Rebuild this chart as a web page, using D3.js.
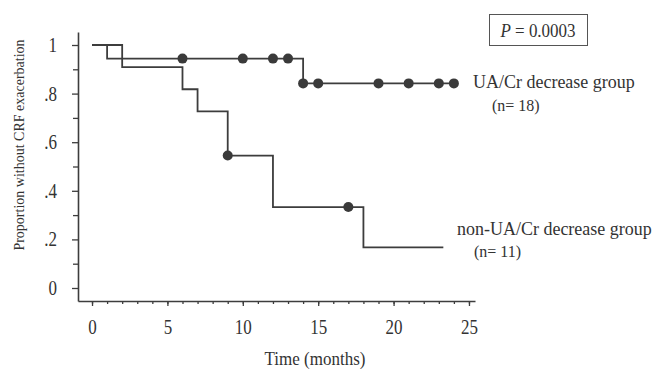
<!DOCTYPE html>
<html>
<head>
<meta charset="utf-8">
<script src="https://cdn.jsdelivr.net/npm/d3@7"></script>
<style>
  body { margin: 0; background: #fff; }
  text { font-family: "Liberation Serif", "Times New Roman", serif; fill: #333; }
</style>
</head>
<body>
<div id="chart"></div>
<script>
// UA/Cr decrease group (n = 18)
const uaTimes = [0, 1, 14, 24];
const uaSurv = [1, 0.944, 0.842, 0.842];
const uaCensor = [6, 10, 12, 13, 14, 15, 19, 21, 23, 24];

// non-UA/Cr decrease group (n = 11)
const nonTimes = [0, 2, 6, 7, 9, 12, 18, 23.3];
const nonSurv = [1, 0.909, 0.818, 0.727, 0.545, 0.333, 0.167, 0.167];
const nonCensor = [9, 17];

const xTicks = [0, 5, 10, 15, 20, 25];
const yTicks = [0, 0.2, 0.4, 0.6, 0.8, 1];
const pValue = "0.0003";

const width = 655, height = 370;
const ink = "#3d3d3d";

const svg = d3.select("#chart").append("svg")
  .attr("width", width)
  .attr("height", height);

const x = d3.scaleLinear().domain([-0.93, 25.4]).range([78, 475]);
const y = d3.scaleLinear().domain([-0.0535, 1.0535]).range([301, 32]);

// the scanned figure's text is a bit taller than wide
function stretch(sel, sy) {
  sel.each(function () {
    const t = d3.select(this);
    const tx = +t.attr("x") || 0, ty = +t.attr("y") || 0;
    t.attr("x", 0).attr("y", 0)
      .attr("transform", `translate(${tx},${ty}) scale(1,${sy})`);
  });
}

// minor ticks
svg.append("g")
  .attr("transform", "translate(0,301)")
  .call(d3.axisBottom(x).tickValues(d3.range(0, 26)).tickSize(3).tickFormat(""))
  .call(g => g.select(".domain").remove());
svg.append("g")
  .attr("transform", "translate(78,0)")
  .call(d3.axisLeft(y).tickValues(d3.range(1, 10, 2).map(d => d / 10)).tickSize(5).tickFormat(""))
  .call(g => g.select(".domain").remove());

// main axes
const xAxis = svg.append("g")
  .attr("transform", "translate(0,301)")
  .call(d3.axisBottom(x).tickValues(xTicks).tickSize(5).tickSizeOuter(0).tickPadding(13.5));
const yAxis = svg.append("g")
  .attr("transform", "translate(78,0)")
  .call(d3.axisLeft(y).tickValues(yTicks).tickSize(6).tickSizeOuter(0).tickPadding(15)
    .tickFormat(d => d === 0 ? "0" : d === 1 ? "1" : d3.format(".1f")(d).replace("0.", ".")));

svg.selectAll(".tick line").attr("stroke", ink).attr("stroke-width", 1.3);
svg.selectAll(".domain").attr("stroke", ink).attr("stroke-width", 1.6);
svg.selectAll(".tick text")
  .attr("fill", "#333")
  .style("font-family", "'Liberation Serif', serif")
  .style("font-size", "17px")
  .call(stretch, 1.2);

// axis titles
svg.append("text")
  .attr("x", 315).attr("y", 365)
  .attr("text-anchor", "middle")
  .style("font-size", "17px")
  .text("Time (months)")
  .call(stretch, 1.12);

svg.append("text")
  .attr("transform", "translate(24,145) rotate(-90)")
  .attr("text-anchor", "middle")
  .style("font-size", "14px")
  .text("Proportion without CRF exacerbation");

// survival curves
const line = d3.line()
  .x(d => x(d[0]))
  .y(d => y(d[1]))
  .curve(d3.curveStepAfter);

function levelAt(times, surv, t) {
  let i = 0;
  while (i + 1 < times.length && times[i + 1] <= t) i++;
  return surv[i];
}

const groups = [
  { times: nonTimes, surv: nonSurv, censor: nonCensor },
  { times: uaTimes, surv: uaSurv, censor: uaCensor }
];

groups.forEach(gr => {
  svg.append("path")
    .datum(d3.zip(gr.times, gr.surv))
    .attr("fill", "none")
    .attr("stroke", ink)
    .attr("stroke-width", 1.8)
    .attr("d", line);
  svg.append("g")
    .selectAll("circle")
    .data(gr.censor)
    .enter()
    .append("circle")
    .attr("cx", d => x(d))
    .attr("cy", d => y(levelAt(gr.times, gr.surv, d)))
    .attr("r", 5)
    .attr("fill", "#3a3a3a");
});

// group labels
svg.append("text").attr("x", 473).attr("y", 88).style("font-size", "18px")
  .text("UA/Cr decrease group").call(stretch, 1.05);
svg.append("text").attr("x", 492).attr("y", 111).style("font-size", "16px")
  .text("(n= 18)").call(stretch, 1.1);
svg.append("text").attr("x", 457).attr("y", 235).style("font-size", "18px")
  .text("non-UA/Cr decrease group").call(stretch, 1.05);
svg.append("text").attr("x", 474).attr("y", 257).style("font-size", "16px")
  .text("(n= 11)").call(stretch, 1.1);

// P value box
svg.append("rect")
  .attr("x", 489.5).attr("y", 14.5)
  .attr("width", 98).attr("height", 31)
  .attr("fill", "none")
  .attr("stroke", "#555")
  .attr("stroke-width", 1);
const pt = svg.append("text")
  .attr("x", 538).attr("y", 37)
  .attr("text-anchor", "middle")
  .style("font-size", "17px");
pt.append("tspan").style("font-style", "italic").text("P");
pt.append("tspan").text(" = " + pValue);
pt.call(stretch, 1.1);
</script>
</body>
</html>
